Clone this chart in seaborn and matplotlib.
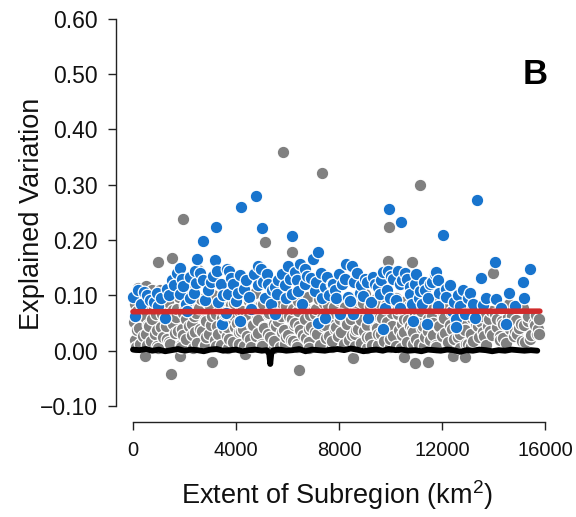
import matplotlib
matplotlib.use("Agg")
import matplotlib.pyplot as plt
import seaborn as sns
import pandas as pd

# ---------------- data ----------------
gray_low_x = [60, 280, 520, 700, 950, 1150, 1400, 1620, 1850, 2050,
              2300, 2500, 2750, 2950, 3200, 3420, 3650, 3880, 4100, 4320,
              4550, 4780, 5000, 5250, 5480, 5700, 5930, 6150, 6380, 6600,
              6820, 7050, 7280, 7500, 7730, 7950, 8180, 8400, 8630, 8850,
              9080, 9300, 9530, 9750, 9980, 10200, 10430, 10650, 10880, 11100,
              11330, 11550, 11780, 12000, 12250, 12480, 12700, 12950, 13200, 13450,
              13700, 13950, 14250, 14500, 14800, 15100, 15400, 15700]
gray_low_y = [0.020, 0.012, 0.030, 0.018, 0.008, 0.025, 0.015, 0.032, 0.010, 0.022,
              0.028, 0.014, 0.006, 0.030, 0.019, 0.011, 0.027, 0.016, 0.033, 0.009,
              0.021, 0.026, 0.013, 0.031, 0.017, 0.007, 0.024, 0.020, 0.012, 0.029,
              0.015, 0.034, 0.010, 0.023, 0.018, 0.027, 0.008, 0.020, 0.031, 0.014,
              0.025, 0.011, 0.030, 0.017, 0.022, 0.009, 0.028, 0.016, 0.033, 0.012,
              0.024, 0.019, 0.010, 0.027, 0.015, 0.021, 0.030, 0.013, 0.018, 0.025,
              0.011, 0.028, 0.020, 0.014, 0.026, 0.017, 0.022, 0.030]

gray_base_x = [120, 540, 980, 1420, 1880, 2320, 2780, 3220, 3680, 4120,
               4580, 5020, 5480, 5920, 6380, 6820, 7280, 7720, 8180, 8620,
               9080, 9520, 9980, 10420, 10880, 11320, 11780, 12220, 12680, 13120]
gray_base_y = [0.006, 0.010, 0.004, 0.012, 0.007, 0.005, 0.011, 0.008, 0.004, 0.013,
               0.006, 0.009, 0.005, 0.012, 0.007, 0.004, 0.010, 0.006, 0.013, 0.008,
               0.005, 0.011, 0.007, 0.004, 0.012, 0.009, 0.006, 0.010, 0.005, 0.008]

gray_lowmid_x = [140, 390, 610, 860, 1070, 1330, 1540, 1760, 1960, 2170,
                 2390, 2610, 2830, 3040, 3300, 3520, 3740, 3960, 4180, 4410,
                 4640, 4870, 5100, 5330, 5560, 5790, 6020, 6240, 6470, 6700,
                 6930, 7160, 7380, 7610, 7840, 8070, 8300, 8520, 8750, 8980,
                 9200, 9420, 9650, 9870, 10100, 10320, 10540, 10770, 10990, 11220,
                 11440, 11660, 11890, 12120, 12380, 12640, 12880, 13130, 13400, 13650,
                 13880, 14120, 14370, 14640, 14900, 15170, 15460, 15730]
gray_lowmid_y = [0.038, 0.026, 0.045, 0.031, 0.042, 0.022, 0.048, 0.035, 0.028, 0.044,
                 0.033, 0.040, 0.024, 0.047, 0.030, 0.039, 0.021, 0.043, 0.036, 0.027,
                 0.046, 0.032, 0.041, 0.025, 0.044, 0.034, 0.029, 0.047, 0.037, 0.023,
                 0.042, 0.030, 0.045, 0.026, 0.039, 0.033, 0.048, 0.028, 0.040, 0.035,
                 0.024, 0.043, 0.031, 0.046, 0.027, 0.038, 0.034, 0.044, 0.022, 0.041,
                 0.036, 0.029, 0.045, 0.032, 0.040, 0.025, 0.038, 0.030, 0.044, 0.027,
                 0.035, 0.042, 0.023, 0.039, 0.031, 0.046, 0.028, 0.040]

gray_mid_x = [30, 215, 370, 575, 745, 940, 1115, 1290, 1495, 1670,
              1890, 2070, 2295, 2450, 2675, 2850, 3070, 3245, 3475, 3650,
              3870, 4045, 4270, 4455, 4670, 4850, 5075, 5245, 5470, 5650,
              5875, 6040, 6275, 6450, 6670, 6845, 7075, 7250, 7470, 7655,
              7880, 8045, 8275, 8450, 8670, 8855, 9075, 9245, 9470, 9660,
              9870, 10050, 10275, 10445, 10670, 10850, 11070, 11245, 11475, 11650,
              11870, 12045, 12320, 12590, 12910, 13180, 13520, 13790, 14130, 14380,
              14720, 14990, 15320, 15610]
gray_mid_y = [0.052, 0.041, 0.064, 0.047, 0.058, 0.038, 0.066, 0.044, 0.055, 0.061,
              0.040, 0.057, 0.049, 0.068, 0.036, 0.053, 0.062, 0.045, 0.059, 0.042,
              0.065, 0.050, 0.039, 0.060, 0.046, 0.056, 0.043, 0.067, 0.048, 0.054,
              0.037, 0.063, 0.051, 0.044, 0.058, 0.040, 0.066, 0.053, 0.047, 0.061,
              0.042, 0.057, 0.050, 0.064, 0.038, 0.055, 0.046, 0.062, 0.041, 0.059,
              0.052, 0.044, 0.067, 0.048, 0.056, 0.039, 0.063, 0.045, 0.058, 0.050,
              0.043, 0.061, 0.047, 0.055, 0.038, 0.060, 0.052, 0.044, 0.057, 0.049,
              0.062, 0.041, 0.054, 0.046]

gray_upmid_x = [170, 450, 660, 900, 1180, 1440, 1700, 1930, 2140, 2360,
                2560, 2790, 3000, 3230, 3440, 3690, 3910, 4140, 4370, 4590,
                4820, 5050, 5280, 5510, 5740, 5960, 6190, 6410, 6640, 6870,
                7100, 7330, 7560, 7790, 8020, 8240, 8470, 8700, 8930, 9150,
                9380, 9600, 9830, 10060, 10280, 10510, 10730, 10960, 11180, 11410,
                11630, 11850, 12080, 12330, 12560, 12820, 13060, 13310, 13560, 13820,
                14060, 14330, 14560, 14860, 15060, 15350, 15560, 15780]
gray_upmid_y = [0.072, 0.061, 0.079, 0.066, 0.083, 0.058, 0.075, 0.069, 0.088, 0.063,
                0.077, 0.056, 0.081, 0.067, 0.073, 0.060, 0.086, 0.070, 0.064, 0.078,
                0.059, 0.084, 0.068, 0.074, 0.062, 0.080, 0.057, 0.071, 0.085, 0.065,
                0.076, 0.060, 0.082, 0.069, 0.063, 0.079, 0.058, 0.074, 0.087, 0.066,
                0.071, 0.061, 0.083, 0.068, 0.075, 0.057, 0.080, 0.064, 0.072, 0.086,
                0.062, 0.077, 0.059, 0.070, 0.066, 0.052, 0.074, 0.049, 0.063, 0.058,
                0.067, 0.053, 0.061, 0.056, 0.048, 0.062, 0.051, 0.058]

gray_high_x = [90, 320, 540, 820, 1060, 1350, 1560, 1780, 2010, 2230,
               2420, 2630, 2900, 3120, 3390, 3580, 3800, 4010, 4230, 4510,
               4740, 4930, 5150, 5390, 5580, 5800, 6010, 6210, 6420, 6610,
               6810, 7020, 7210, 7420, 7610, 7820, 8010, 8230, 8410, 8620,
               8820, 9020, 9210, 9420, 9610, 9820, 10020, 10220, 10410, 10620,
               10820, 11020, 11210, 11420, 11620, 11830, 12150, 12750, 13350, 13900,
               14600, 15150]
gray_high_y = [0.085, 0.102, 0.093, 0.078, 0.109, 0.088, 0.074, 0.097, 0.083, 0.105,
               0.079, 0.094, 0.087, 0.101, 0.076, 0.091, 0.083, 0.099, 0.072, 0.089,
               0.104, 0.081, 0.095, 0.077, 0.092, 0.086, 0.100, 0.075, 0.090, 0.082,
               0.097, 0.073, 0.094, 0.086, 0.103, 0.079, 0.091, 0.084, 0.098, 0.076,
               0.089, 0.102, 0.080, 0.093, 0.087, 0.099, 0.074, 0.096, 0.083, 0.090,
               0.078, 0.101, 0.085, 0.092, 0.076, 0.088, 0.081, 0.074, 0.079, 0.072,
               0.085, 0.077]

gray_extra_x = [5820, 7330, 1940, 11140, 9930, 5130, 6180, 6440, 960, 1530,
                1475, 13970, 15750, 15640, 2520, 9910, 10820, 470, 1820, 3070,
                4350, 8540, 10520, 10940, 11450, 12430, 12890, 13590, 14240, 14820,
                15210, 12240, 13000, 6220, 2990, 200, 500, 750, 2300, 4000]
gray_extra_y = [0.360, 0.322, 0.239, 0.300, 0.224, 0.197, 0.179, -0.034, 0.161, 0.167,
                -0.042, 0.141, 0.031, 0.065, 0.146, 0.163, 0.161, -0.010, -0.010, -0.021,
                -0.006, -0.013, -0.012, -0.023, -0.021, -0.010, -0.011, 0.033, 0.027, 0.036,
                0.015, 0.012, 0.012, 0.018, 0.096, 0.113, 0.117, 0.110, 0.118, 0.112]

blue_x = [13, 430, 920, 1240, 970, 80, 1820, 2210, 2440, 2720,
          3030, 3250, 2500, 2700, 3210, 3180, 3640, 3500, 3610, 1820,
          2210, 2080, 3450, 3720, 4150, 4090, 3700, 3570, 4150, 4600,
          4860, 4990, 5190, 4860, 5250, 5510, 5580, 5120, 6030, 6480,
          6680, 7000, 7190, 6350, 6680, 6160, 6550, 7060, 7450, 7710,
          7190, 7450, 5510, 4770, 4190, 5000, 6170, 7770, 8230, 8490,
          8290, 7900, 8420, 8870, 9320, 9710, 9910, 10290, 11000, 11520,
          11720, 8940, 9590, 9980, 10370, 10750, 10750, 11140, 11470, 10820,
          11210, 10370, 8040, 8550, 9130, 9790, 9710, 10880, 11400, 9930,
          10400, 11780, 11850, 12170, 12620, 11850, 12370, 12560, 12880, 12560,
          13200, 13270, 13720, 14110, 14300, 14500, 14820, 14050, 13500, 15400,
          15130, 13370, 12050, 300, 650, 1400, 1600, 1700, 1950, 2350,
          2600, 2900, 3300, 3900, 4400, 4500, 5350, 5800, 5900, 6300,
          6900, 7300, 7600, 8000, 8700, 9100, 9500, 10100, 10550, 11300,
          12300, 12800, 13000, 14600, 15200]
blue_y = [0.098, 0.107, 0.105, 0.060, 0.081, 0.063, 0.149, 0.134, 0.122, 0.127,
          0.124, 0.145, 0.166, 0.199, 0.223, 0.164, 0.147, 0.101, 0.069, 0.102,
          0.096, 0.072, 0.049, 0.145, 0.136, 0.105, 0.102, 0.066, 0.054, 0.075,
          0.154, 0.148, 0.139, 0.118, 0.121, 0.115, 0.102, 0.096, 0.154, 0.157,
          0.148, 0.166, 0.178, 0.127, 0.121, 0.102, 0.084, 0.108, 0.115, 0.121,
          0.051, 0.060, 0.066, 0.279, 0.259, 0.221, 0.208, 0.121, 0.130, 0.154,
          0.157, 0.096, 0.090, 0.118, 0.133, 0.142, 0.145, 0.145, 0.139, 0.121,
          0.139, 0.099, 0.102, 0.096, 0.121, 0.115, 0.102, 0.108, 0.096, 0.084,
          0.084, 0.078, 0.066, 0.066, 0.060, 0.078, 0.039, 0.054, 0.048, 0.257,
          0.233, 0.142, 0.127, 0.098, 0.101, 0.081, 0.072, 0.057, 0.066, 0.042,
          0.084, 0.060, 0.096, 0.093, 0.078, 0.048, 0.081, 0.161, 0.131, 0.147,
          0.124, 0.273, 0.209, 0.085, 0.092, 0.101, 0.118, 0.140, 0.117, 0.105,
          0.140, 0.110, 0.088, 0.120, 0.127, 0.098, 0.085, 0.138, 0.118, 0.143,
          0.131, 0.140, 0.100, 0.138, 0.140, 0.125, 0.115, 0.130, 0.140, 0.125,
          0.118, 0.110, 0.095, 0.105, 0.095]

blue_more_x = [180, 560, 800, 1100, 1320, 1500, 1900, 2050, 2400, 2800,
               3100, 3400, 3800, 4000, 4300, 4700, 5050, 5400, 5650, 5950,
               6100, 6400, 6750, 7100, 7350, 7550, 7850, 8100, 8350, 8600,
               8800, 9000, 9250, 9400, 9650, 9850, 10000, 10200, 10450, 10650,
               10950, 11100, 11350, 11600, 11900, 12150, 12450, 12700, 13100, 13600]
blue_more_y = [0.110, 0.100, 0.088, 0.095, 0.112, 0.128, 0.130, 0.085, 0.145, 0.092,
               0.135, 0.120, 0.132, 0.090, 0.112, 0.138, 0.125, 0.110, 0.128, 0.095,
               0.130, 0.108, 0.135, 0.125, 0.095, 0.133, 0.110, 0.120, 0.098, 0.125,
               0.105, 0.130, 0.088, 0.120, 0.128, 0.110, 0.135, 0.092, 0.128, 0.130,
               0.120, 0.095, 0.110, 0.125, 0.105, 0.112, 0.088, 0.080, 0.105, 0.082]

black_x = [0, 250, 500, 750, 1000, 1250, 1500, 1750, 2000, 2250,
           2500, 2750, 3000, 3250, 3500, 3750, 4000, 4250, 4500, 4750,
           5000, 5200, 5290, 5330, 5370, 5450, 5700, 5950, 6200, 6450,
           6700, 6950, 7200, 7450, 7700, 7950, 8200, 8450, 8700, 8950,
           9200, 9450, 9700, 9950, 10200, 10450, 10700, 10950, 11200, 11450,
           11700, 11950, 12200, 12450, 12700, 12950, 13200, 13450, 13700, 13950,
           14200, 14450, 14700, 14950, 15200, 15450, 15700]
black_y = [0.002, 0.001, 0.003, 0.000, 0.002, -0.001, 0.001, 0.003, 0.000, 0.002,
           0.001, -0.001, 0.002, 0.003, 0.000, 0.001, 0.002, -0.001, 0.001, 0.002,
           0.000, 0.001, -0.006, -0.024, -0.005, 0.001, 0.002, 0.000, 0.001, 0.003,
           -0.001, 0.002, 0.001, 0.000, 0.002, 0.003, 0.001, 0.004, 0.002, -0.001,
           0.001, 0.002, 0.000, 0.003, 0.001, 0.002, 0.000, 0.001, -0.001, 0.002,
           0.001, 0.000, 0.002, 0.001, -0.002, 0.001, 0.000, 0.002, 0.001, -0.001,
           0.001, 0.000, 0.002, 0.001, 0.000, 0.001, 0.000]

red_x = [0, 15800]
red_y = [0.0705, 0.0715]

x_ticks = [0, 4000, 8000, 12000, 16000]
x_tick_labels = ["0", "4000", "8000", "12000", "16000"]
y_ticks = [-0.10, 0.00, 0.10, 0.20, 0.30, 0.40, 0.50, 0.60]
y_tick_labels = ["\u22120.10", "0.00", "0.10", "0.20", "0.30", "0.40", "0.50", "0.60"]

# ---------------- plotting ----------------
sns.set_style("ticks")
plt.rcParams["font.family"] = ["Liberation Sans", "DejaVu Sans"]
plt.rcParams["mathtext.fontset"] = "custom"
plt.rcParams["mathtext.rm"] = "Liberation Sans"
plt.rcParams["mathtext.it"] = "Liberation Sans:italic"
plt.rcParams["mathtext.bf"] = "Liberation Sans:bold"

gray_df = pd.DataFrame({
    "x": gray_base_x + gray_low_x + gray_lowmid_x + gray_mid_x + gray_upmid_x
         + gray_high_x + gray_extra_x,
    "y": gray_base_y + gray_low_y + gray_lowmid_y + gray_mid_y + gray_upmid_y
         + gray_high_y + gray_extra_y,
}).sort_values("x")
blue_df = pd.DataFrame({"x": blue_x + blue_more_x,
                        "y": blue_y + blue_more_y}).sort_values("x")
black_df = pd.DataFrame({"x": black_x, "y": black_y})
red_df = pd.DataFrame({"x": red_x, "y": red_y})

fig = plt.figure(figsize=(5.76, 5.17), dpi=100)
ax = fig.add_axes([116 / 576, 95 / 517, 440.6 / 576, 414.2 / 517])

sns.scatterplot(data=gray_df, x="x", y="y", color="#808080", s=82,
                edgecolor="white", linewidth=0.9, ax=ax, zorder=2, legend=False)
sns.scatterplot(data=blue_df, x="x", y="y", color="#1874CD", s=82,
                edgecolor="white", linewidth=0.9, ax=ax, zorder=3, legend=False)
sns.lineplot(data=black_df, x="x", y="y", color="black", linewidth=4.2,
             estimator=None, sort=False, ax=ax, zorder=4)
sns.lineplot(data=red_df, x="x", y="y", color="#D02B2B", linewidth=4.0,
             estimator=None, ax=ax, zorder=5, solid_capstyle="round")

ax.set_xlim(-660, 16450)
ax.set_ylim(-0.1289, 0.62)
ax.set_xticks(x_ticks)
ax.set_xticklabels(x_tick_labels)
ax.set_yticks(y_ticks)
ax.set_yticklabels(y_tick_labels)

for side in ["top", "right"]:
    ax.spines[side].set_visible(False)
ax.spines["left"].set_bounds(-0.1, 0.6)
ax.spines["bottom"].set_bounds(0, 16000)
for side in ["left", "bottom"]:
    ax.spines[side].set_linewidth(1.0)
    ax.spines[side].set_color("#222222")
ax.tick_params(axis="both", length=6, width=1.0, colors="#222222",
               labelcolor="#111111")
ax.tick_params(axis="x", pad=8, labelsize=14.5)
ax.tick_params(axis="y", pad=7, labelsize=16.5)

ax.set_xlabel("Extent of Subregion (km$^{2}$)", fontsize=19.5, color="#111111", va="center")
ax.set_ylabel("Explained Variation", fontsize=19.5, color="#111111", va="center")
ax.xaxis.set_label_coords((337 - 116) / 440.6, (422 - 495) / 414.2)
ax.yaxis.set_label_coords((32 - 116) / 440.6, (422 - 214) / 414.2)

ax.text((535 - 116) / 440.6, (422 - 74) / 414.2, "B", transform=ax.transAxes,
        fontsize=25, fontweight="bold", ha="center", va="center", color="black")

fig.savefig("out.png", dpi=100)
